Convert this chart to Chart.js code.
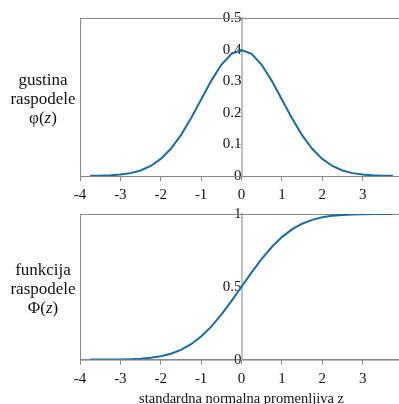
<!DOCTYPE html>
<html>
<head>
<meta charset="utf-8">
<script src="https://cdn.jsdelivr.net/npm/chart.js@4"></script>
<style>
  html, body { margin: 0; padding: 0; background: #fff; overflow: hidden; }
  #wrap { position: relative; width: 399px; height: 404px; overflow: hidden; }
  .box { position: absolute; left: 0; width: 420px; }
  .lbl { position: absolute; left: 0; width: 86px; text-align: center;
         font-family: "Liberation Serif", serif; font-size: 17px; line-height: 19px; color: #111; }
</style>
</head>
<body>
<div id="wrap">
  <div class="box" style="top:0;height:209px"><canvas id="pdfChart"></canvas></div>
  <div class="box" style="top:200px;height:208px"><canvas id="cdfChart"></canvas></div>
  <div class="lbl" style="top:70px">gustina<br>raspodele<br>φ(<i>z</i>)</div>
  <div class="lbl" style="top:260px">funkcija<br>raspodele<br>Φ(<i>z</i>)</div>
</div>
<script>
let zVals = [-3.75, -3.5, -3.25, -3, -2.75, -2.5, -2.25, -2, -1.75, -1.5, -1.25, -1, -0.75, -0.5, -0.25,
  0, 0.25, 0.5, 0.75, 1, 1.25, 1.5, 1.75, 2, 2.25, 2.5, 2.75, 3, 3.25, 3.5, 3.75];
let gustina = [0.0004, 0.0009, 0.002, 0.0044, 0.0091, 0.0175, 0.0317, 0.054, 0.0863, 0.1295, 0.1826, 0.242, 0.3011, 0.3521, 0.3867,
  0.3989, 0.3867, 0.3521, 0.3011, 0.242, 0.1826, 0.1295, 0.0863, 0.054, 0.0317, 0.0175, 0.0091, 0.0044, 0.002, 0.0009, 0.0004];
let funkcija = [0.0001, 0.0002, 0.0006, 0.0013, 0.003, 0.0062, 0.0122, 0.0228, 0.0401, 0.0668, 0.1056, 0.1587, 0.2266, 0.3085, 0.4013,
  0.5, 0.5987, 0.6915, 0.7734, 0.8413, 0.8944, 0.9332, 0.9599, 0.9772, 0.9878, 0.9938, 0.997, 0.9987, 0.9994, 0.9998, 0.9999];
let xTitle = 'standardna normalna promenljiva z';

const lineColor = '#1b6ca3';
const fontFam = '"Liberation Serif", serif';

// okvir oko oblasti crteza
const frame = {
  id: 'frame',
  beforeDatasetsDraw(chart) {
    let a = chart.chartArea, ctx = chart.ctx;
    ctx.save();
    ctx.strokeStyle = '#8a8a8a';
    ctx.lineWidth = 1;
    ctx.strokeRect(Math.round(a.left) + 0.5, Math.round(a.top) + 0.5, a.right - a.left, a.bottom - a.top);
    ctx.restore();
  }
};

function makeChart(id, values, yMax, yStep, pad, title) {
  let ctx = document.getElementById(id).getContext('2d');
  return new Chart(ctx, {
    type: 'line',
    data: {
      datasets: [{
        data: zVals.map((z, i) => ({ x: z, y: values[i] })),
        borderColor: lineColor,
        borderWidth: 2,
        pointRadius: 0,
        fill: false,
        tension: 0
      }]
    },
    options: {
      responsive: true,
      maintainAspectRatio: false,
      animation: false,
      events: [],
      layout: { padding: pad },
      plugins: { legend: { display: false }, tooltip: { enabled: false } },
      scales: {
        x: {
          type: 'linear',
          min: -4,
          max: 4,
          ticks: { stepSize: 1, color: '#111', font: { family: fontFam, size: 15 }, padding: 5 },
          grid: { drawOnChartArea: false, tickLength: 5, color: '#8a8a8a' },
          border: { color: '#8a8a8a' },
          title: { display: !!title, text: title, color: '#111', font: { family: fontFam, size: 14.5 }, padding: { top: -2, bottom: 0 } }
        },
        y: {
          type: 'linear',
          position: { x: 0 },
          min: 0,
          max: yMax,
          ticks: {
            stepSize: yStep, color: '#111', padding: 2,
            font: { family: fontFam, size: 15 },
            callback: v => String(+v.toFixed(1))
          },
          grid: { drawOnChartArea: false, tickLength: 4, color: '#bfbfbf' },
          border: { color: '#bfbfbf', width: 2 }
        }
      }
    },
    plugins: [frame]
  });
}

makeChart('pdfChart', gustina, 0.5, 0.1, { left: 80, right: 17, top: 18, bottom: 0 }, '');
makeChart('cdfChart', funkcija, 1, 0.5, { left: 80, right: 17, top: 14, bottom: 0 }, xTitle);
</script>
</body>
</html>
